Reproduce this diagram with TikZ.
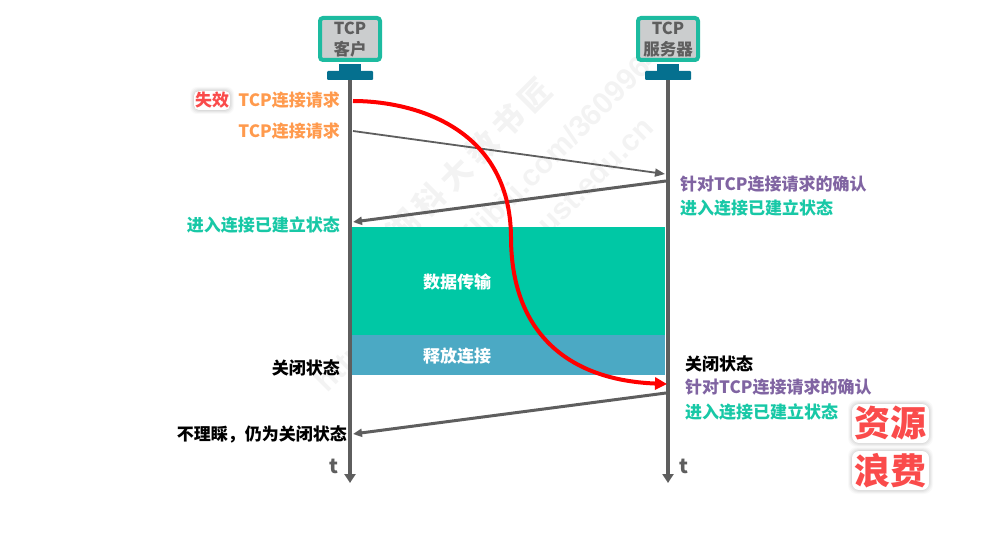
\documentclass[tikz,border=0pt]{standalone}
\usepackage{fontspec}
\setmainfont{Noto Sans CJK SC}
\newfontfamily\wmfont{Liberation Sans}
\newfontfamily\wmcjk[LetterSpace=20]{Noto Sans CJK SC}
\usetikzlibrary{arrows.meta,positioning}
\definecolor{linegray}{HTML}{5E5E5E}
\definecolor{tealframe}{HTML}{1DBBA0}
\definecolor{screenfill}{HTML}{CBCDCE}
\definecolor{standblue}{HTML}{05708F}
\definecolor{datagreen}{HTML}{00C8A5}
\definecolor{closeblue}{HTML}{4BA9C4}
\definecolor{reqorange}{HTML}{FF9A4D}
\definecolor{ackpurple}{HTML}{8064A2}
\definecolor{stategreen}{HTML}{18C8A6}
\definecolor{alertred}{HTML}{FA4B4B}
\definecolor{wmgray}{HTML}{F3F3F3}
\tikzset{
  lbl/.style={font=\fontsize{17}{18}\selectfont\bfseries, inner sep=0pt},
  lblL/.style={lbl, anchor=west},
  lblR/.style={lbl, anchor=east},
  monitor/.style={draw=tealframe, line width=4pt, fill=screenfill, rounded corners=3pt,
    minimum width=60pt, minimum height=42pt, inner sep=0pt},
  montxt/.style={inner sep=0pt, text=linegray, align=center,
    font=\fontsize{16.5}{20.5}\selectfont\bfseries},
  standtop/.style={fill=standblue, minimum width=22pt, minimum height=7pt, inner sep=0pt},
  standbase/.style={fill=standblue, rounded corners=1pt, minimum width=46pt, minimum height=9pt, inner sep=0pt},
  lifeline/.style={draw=linegray, line width=4pt, -{Triangle[length=9pt,width=11pt]}},
  msgthin/.style={draw=linegray, line width=1.8pt, -{Triangle[length=10pt,width=8pt]}},
  msgthick/.style={draw=linegray, line width=3pt, -{Triangle[length=9pt,width=8pt]}},
  lostmsg/.style={draw=red, line width=4pt, -{Triangle[length=12pt,width=12pt]}},
  phase/.style={minimum width=313pt, inner sep=0pt},
  phasetxt/.style={lbl, text=white},
  watermark/.style={rotate=45, text=wmgray, inner sep=0pt},
  alert/.style={text=alertred, inner sep=0pt, font=\fontsize{36}{38}\selectfont\bfseries},
  timelbl/.style={text=linegray, inner sep=0pt, font=\fontsize{20}{20}\selectfont\bfseries}
}
\begin{document}
\begin{tikzpicture}[x=1pt,y=-1pt]
\useasboundingbox (0,0) rectangle (993,548);
% watermark
\node[watermark, anchor=east, font=\wmcjk\fontsize{31}{33}\selectfont\bfseries] (wma) at (546,84) {湖科大教书匠};
\node[watermark, anchor=west, font=\wmfont\fontsize{30}{32}\selectfont\bfseries] (wmb) at (322,388) {https://space.bilibili.com/360996402};
\node[watermark, anchor=east, font=\wmfont\fontsize{30}{32}\selectfont\bfseries] (wmc) at (648,122) {hnust.edu.cn};
% phases
\node[phase, fill=datagreen, minimum height=107pt] (data) at (508.5,281) {};
\node[phase, fill=closeblue, minimum height=40pt] (rel) at (508.5,355) {};
\node[phasetxt] (datatxt) at (457,282) {数据传输};
\node[phasetxt] (reltxt) at (457,356) {释放连接};
% monitors
\node[monitor] (cli) at (350,39) {};
\node[montxt] (clitxt) at (350,39.5) {TCP\\客户};
\node[standtop] (clitop) at (350,68) {};
\node[standbase] (clibase) at (350,75.5) {};
\node[monitor] (srv) at (668,39) {};
\node[montxt] (srvtxt) at (668,39.5) {TCP\\服务器};
\node[standtop] (srvtop) at (668,68) {};
\node[standbase] (srvbase) at (668,75.5) {};
% lifeline ends and message anchors
\coordinate (cliend) at (350,483);
\coordinate (srvend) at (668,483);
\coordinate (c1) at (353,101);
\coordinate (c2) at (353,131);
\coordinate (s2) at (665,174);
\coordinate (s3) at (666,181);
\coordinate (c3) at (353,222);
\coordinate (s4) at (666,393);
\coordinate (c4) at (353,434);
\coordinate (s1) at (667,384);
\draw[lifeline] (clibase.south) -- (cliend);
\draw[lifeline] (srvbase.south) -- (srvend);
\draw[msgthin] (c2) -- (s2);
\draw[msgthick] (s3) -- (c3);
\draw[msgthick] (s4) -- (c4);
\draw[lostmsg] (c1) .. controls (410,101) and (510,125) .. (511,237)
  .. controls (511,330) and (565,380) .. (s1);
% left labels
\node[lblR, text=reqorange] (l1) at (340,100) {TCP连接请求};
\node[lblR, text=reqorange] (l2) at (340,131) {TCP连接请求};
\node[lblR, text=stategreen] (l3) at (340,225) {进入连接已建立状态};
\node[lblR, text=black] (l4) at (340,368) {关闭状态};
\node[lblR, text=black] (l5) at (347,434) {不理睬，仍为关闭状态};
% right labels
\node[lblL, text=ackpurple] (r1) at (680,184) {针对TCP连接请求的确认};
\node[lblL, text=stategreen] (r2) at (680,208) {进入连接已建立状态};
\node[lblL, text=black] (r3) at (685,364) {关闭状态};
\node[lblL, text=ackpurple] (r4) at (685,387) {针对TCP连接请求的确认};
\node[lblL, text=stategreen] (r5) at (685,412) {进入连接已建立状态};
% time labels
\node[timelbl] (t1) at (334,466) {t};
\node[timelbl] (t2) at (684,466) {t};
% halos
\foreach \g/\o in {4/.05,3/.07,2/.09,1/.11}{
  \fill[black!50, opacity=\o, rounded corners=7pt] (194-\g,91-\g) rectangle (230+\g,110+\g);
  \fill[black!50, opacity=\o, rounded corners=9pt] (852-\g,404-\g) rectangle (929+\g,443+\g);
  \fill[black!50, opacity=\o, rounded corners=9pt] (852-\g,451-\g) rectangle (929+\g,490+\g);
}
\fill[white, rounded corners=5pt] (194,91) rectangle (230,110);
\fill[white, rounded corners=7pt] (852,404) rectangle (929,443);
\fill[white, rounded corners=7pt] (852,451) rectangle (929,490);
% alerts
\node[lbl, text=alertred] (lost) at (212,100) {失效};
\node[alert] (a1) at (890.5,423) {资源};
\node[alert] (a2) at (890.5,471) {浪费};
\end{tikzpicture}
\end{document}
